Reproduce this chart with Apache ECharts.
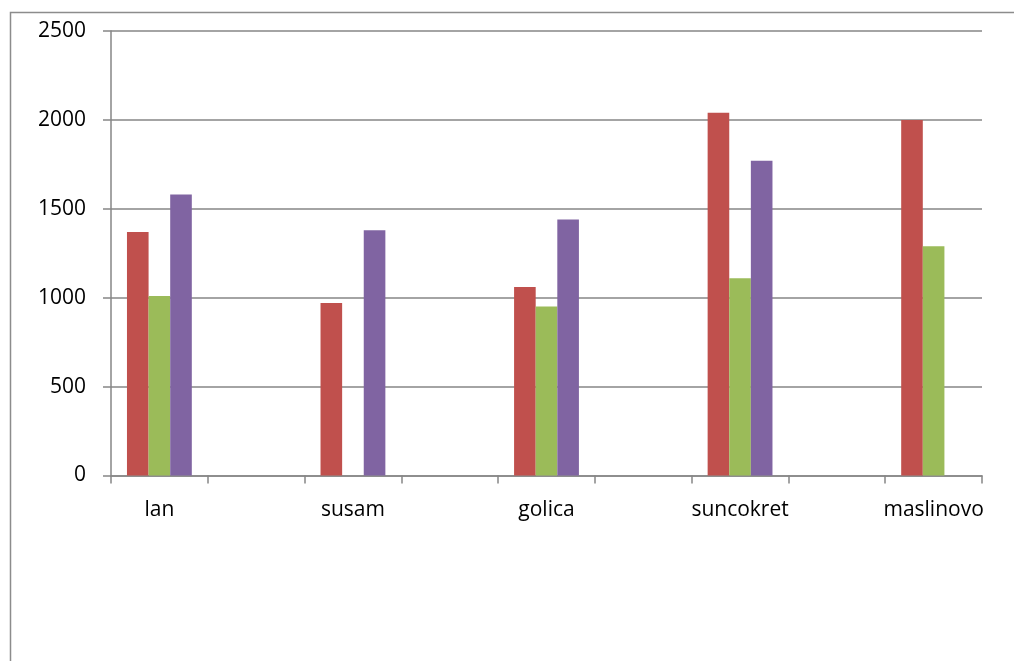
<!DOCTYPE html>
<html>
<head>
<meta charset="utf-8">
<script src="https://cdn.jsdelivr.net/npm/echarts@6/dist/echarts.min.js"></script>
<style>
  html, body { margin: 0; padding: 0; background: #ffffff; }
  #chart { width: 1014px; height: 661px; }
</style>
</head>
<body>
<div id="chart"></div>
<script>
// Oil crops; every other slot is an unlabeled spacer category
const categories = ['lan', '', 'susam', '', 'golica', '', 'suncokret', '', 'maslinovo'];
const seriesRed    = [1370, null,  970, null, 1060, null, 2040, null, 2000];
const seriesGreen  = [1010, null, null, null,  950, null, 1110, null, 1290];
const seriesPurple = [1580, null, 1380, null, 1440, null, 1770, null, null];
const yTicks = { min: 0, max: 2500, interval: 500 };

const axisGray = '#868686';
const labelFont = { fontFamily: '"Open Sans", sans-serif', fontSize: 21, color: '#000000' };

const chart = echarts.init(document.getElementById('chart'), null, { renderer: 'canvas' });

function barSeries(name, data, color) {
  return {
    name: name,
    type: 'bar',
    data: data,
    barGap: '0%',
    barCategoryGap: '33%',
    itemStyle: { color: color },
    emphasis: { disabled: true },
    animation: false
  };
}

chart.setOption({
  backgroundColor: '#ffffff',
  animation: false,
  grid: { left: 111, right: 32, top: 31, bottom: 185.5, containLabel: false },
  xAxis: {
    type: 'category',
    data: categories,
    boundaryGap: true,
    axisLine: { lineStyle: { color: axisGray, width: 1.5 } },
    axisTick: { show: true, interval: 0, alignWithLabel: false, length: 8, lineStyle: { color: axisGray, width: 1.5 } },
    axisLabel: Object.assign({ interval: 0, margin: 24 }, labelFont),
    splitLine: { show: false }
  },
  yAxis: {
    type: 'value',
    min: yTicks.min,
    max: yTicks.max,
    interval: yTicks.interval,
    axisLine: { show: true, lineStyle: { color: axisGray, width: 1.5 } },
    axisTick: { show: true, length: 8, lineStyle: { color: axisGray, width: 1.5 } },
    axisLabel: Object.assign({ margin: 25, formatter: function (v) { return String(v); } }, labelFont),
    splitLine: { show: true, lineStyle: { color: axisGray, width: 1.5 } }
  },
  graphic: [{
    type: 'rect',
    silent: true,
    shape: { x: 10.5, y: 12.5, width: 1100, height: 800 },
    style: { fill: 'none', stroke: '#8c8c8c', lineWidth: 1.5 }
  }],
  series: [
    barSeries('red', seriesRed, '#C0504D'),
    barSeries('green', seriesGreen, '#9BBB59'),
    barSeries('purple', seriesPurple, '#8064A2')
  ]
});
</script>
</body>
</html>
